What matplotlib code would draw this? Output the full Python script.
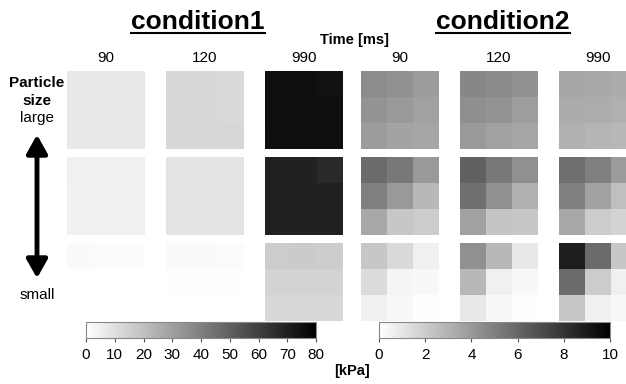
import numpy as np
import matplotlib
matplotlib.use("Agg")
import matplotlib.pyplot as plt
from matplotlib.lines import Line2D
from matplotlib.cm import ScalarMappable
from matplotlib.colors import Normalize

plt.rcParams['font.family'] = ['Liberation Sans', 'DejaVu Sans']

times = ["90", "120", "990"]
conditions = ["condition1", "condition2"]
vmax_list = [80, 10]
ticks1 = [0, 10, 20, 30, 40, 50, 60, 70, 80]
ticks2 = [0, 2, 4, 6, 8, 10]

# condition1, [large, mid, small] per time, values in kPa
c1_t90 = [
    [[7.2, 7.2, 7.2], [7.2, 7.2, 7.2], [7.2, 7.2, 7.2]],
    [[4.7, 4.7, 4.7], [4.6, 4.6, 4.6], [4.6, 4.6, 4.6]],
    [[1.6, 1.5, 1.4], [0.2, 0.2, 0.2], [0.1, 0.1, 0.1]],
]
c1_t120 = [
    [[12.2, 12.2, 11.8], [12.2, 12.2, 12.0], [12.2, 12.2, 12.5]],
    [[8.8, 8.8, 8.6], [8.9, 8.9, 8.9], [8.9, 8.9, 8.9]],
    [[1.6, 1.6, 1.5], [0.6, 0.6, 0.6], [0.1, 0.1, 0.1]],
]
c1_t990 = [
    [[75.0, 75.0, 74.0], [75.0, 74.6, 74.6], [74.8, 74.8, 74.8]],
    [[69.3, 69.3, 66.8], [69.3, 69.3, 69.3], [69.3, 69.3, 69.3]],
    [[16.0, 16.5, 15.8], [13.5, 13.6, 13.5], [12.2, 12.2, 12.2]],
]
# condition2
c2_t90 = [
    [[4.5, 4.3, 3.9], [4.2, 4.0, 3.7], [3.9, 3.6, 3.5]],
    [[5.8, 5.3, 4.0], [5.0, 4.0, 2.8], [3.4, 2.2, 2.0]],
    [[2.2, 1.5, 0.6], [1.4, 0.4, 0.3], [0.6, 0.3, 0.05]],
]
c2_t120 = [
    [[4.7, 4.6, 4.3], [4.4, 4.2, 3.8], [4.0, 3.7, 3.5]],
    [[6.2, 5.3, 4.35], [5.6, 4.35, 3.1], [3.7, 2.3, 2.2]],
    [[4.35, 2.8, 0.9], [2.8, 0.6, 0.3], [0.9, 0.3, 0.1]],
]
c2_t990 = [
    [[3.5, 3.4, 3.3], [3.3, 3.25, 3.1], [3.1, 2.9, 2.85]],
    [[5.7, 5.0, 3.9], [5.0, 3.7, 2.5], [3.4, 2.0, 1.7]],
    [[8.8, 5.8, 2.2], [5.8, 2.0, 0.6], [2.2, 0.6, 0.3]],
]
data = [[c1_t90, c1_t120, c1_t990], [c2_t90, c2_t120, c2_t990]]

W, H = 626, 384
fig = plt.figure(figsize=(W / 100, H / 100), dpi=100)

def px_axes(x, y, w, h):
    # x, y = top-left in pixels
    return fig.add_axes([x / W, 1 - (y + h) / H, w / W, h / H])

def px_text(x, y, s, **kw):
    fig.text(x / W, 1 - y / H, s, ha='center', va='center', **kw)

col_left = [[67, 166, 265], [361, 460, 559]]
row_top = [71, 157, 243]
size = 78

for ci in range(2):
    for ti in range(3):
        for ri in range(3):
            ax = px_axes(col_left[ci][ti], row_top[ri], size, size)
            ax.imshow(np.array(data[ci][ti][ri]), cmap='gray_r', vmin=0,
                      vmax=vmax_list[ci], interpolation='nearest', aspect='auto')
            ax.set_xticks([]); ax.set_yticks([])
            for sp in ax.spines.values():
                sp.set_visible(False)
        px_text(col_left[ci][ti] + size / 2, 58, times[ti], fontsize=11)

# titles with underline
px_text(198, 22, "condition1", fontsize=19, fontweight='bold')
px_text(503, 22, "condition2", fontsize=19, fontweight='bold')
for x0, x1 in [(131, 265), (436, 570)]:
    fig.add_artist(Line2D([x0 / W, x1 / W], [1 - 33 / H, 1 - 33 / H],
                          color='black', lw=1.5))
px_text(354, 40, "Time [ms]", fontsize=10.5, fontweight='bold')

# particle size axis
px_text(37, 83, "Particle", fontsize=11, fontweight='bold')
px_text(37, 101, "size", fontsize=11, fontweight='bold')
px_text(37, 118, "large", fontsize=11)
px_text(37, 295, "small", fontsize=11)
fig.add_artist(matplotlib.patches.FancyArrowPatch(
    (37 / W, 1 - 132 / H), (37 / W, 1 - 281 / H), transform=fig.transFigure,
    arrowstyle='<|-|>,head_length=0.8,head_width=0.45', mutation_scale=14,
    lw=3.5, color='black'))

# colorbars
cb_pos = [(86, 316, ticks1), (379, 610, ticks2)]
for ci, (x0, x1, tk) in enumerate(cb_pos):
    cax = px_axes(x0, 322, x1 - x0, 16)
    sm = ScalarMappable(norm=Normalize(0, vmax_list[ci]), cmap='gray_r')
    cb = fig.colorbar(sm, cax=cax, orientation='horizontal', ticks=tk)
    cb.outline.set_edgecolor('#888888')
    cb.outline.set_linewidth(0.8)
    cax.tick_params(labelsize=11, length=3, color='#555555', pad=4)

px_text(352, 371, "[kPa]", fontsize=10.5, fontweight='bold')

fig.savefig("out.png", dpi=100)
